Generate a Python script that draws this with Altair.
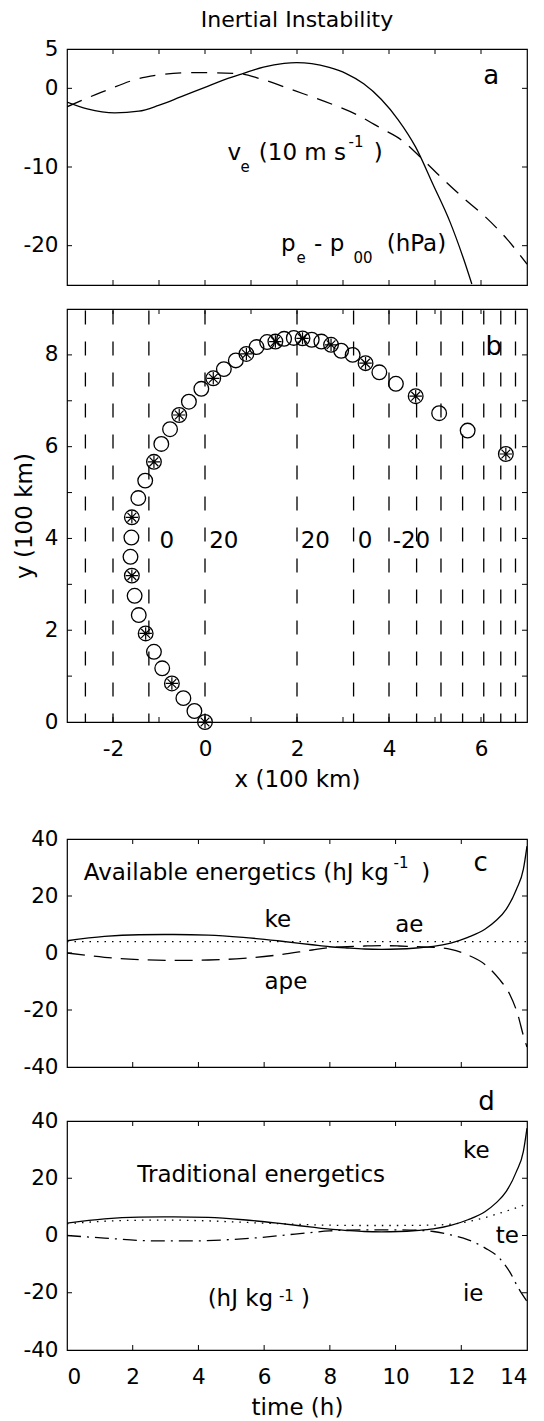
import altair as alt
import pandas as pd

FONT = "DejaVu Sans"
W = 460
H_A, H_B, H_C, H_D = 236, 413, 228, 229
GAP_AB, GAP_BC, GAP_CD = 24, 117, 54
TICK = 5
LW = 1.3

# ---------------- panel a ----------------
a_xdom = [-3, 7]
a_ydom = [-25, 5]
a_solid_x = [-3.0, -2.56, -1.96, -1.44, -1.01, -0.53, 0.0, 0.44, 0.82, 1.27, 1.72, 1.99,
             2.32, 2.70, 3.07, 3.45, 3.83, 4.20, 4.58, 4.96, 5.33, 5.63, 5.80]
a_solid_y = [-1.74, -2.61, -3.13, -2.91, -2.17, -1.09, 0.13, 1.13, 1.87, 2.70, 3.17, 3.26,
             3.13, 2.65, 1.87, 0.57, -1.39, -4.0, -7.48, -12.26, -17.04, -21.83, -24.87]
a_dash_x = [-3.0, -2.26, -1.29, -0.23, 0.74, 1.20, 1.95, 2.77, 3.30, 3.83, 4.28, 4.65,
            5.07, 5.63, 6.08, 6.57, 7.0]
a_dash_y = [-2.35, -0.52, 1.43, 2.0, 1.87, 1.22, -0.30, -2.04, -3.35, -5.09, -6.61, -8.57,
            -10.96, -14.0, -16.26, -19.2, -22.35]
a_text = ["v", "(10 m s", ")", "p", "- p", "(hPa)"]
a_text_x = [0.49, 1.17, 3.67, 1.65, 2.37, 3.95]
a_text_y = [-9.13, -9.13, -9.13, -20.65, -20.65, -20.65]
a_script = ["e", "-1", "e", "00"]
a_script_x = [0.77, 3.12, 1.99, 3.23]
a_script_y = [-10.65, -7.48, -22.17, -22.17]
a_letter = ["a"]
a_letter_x = [6.05]
a_letter_y = [0.57]

# ---------------- panel b ----------------
b_xdom = [-3, 7]
b_ydom = [0, 9]
b_x = [0.0, -0.23, -0.47, -0.72, -0.93, -1.11, -1.29, -1.44, -1.53, -1.59, -1.62, -1.60, -1.59,
       -1.45, -1.30, -1.11, -0.95, -0.76, -0.56, -0.35, -0.08, 0.18, 0.41, 0.67, 0.90, 1.12,
       1.35, 1.53, 1.72, 1.93, 2.12, 2.32, 2.53, 2.74, 2.96, 3.21, 3.49, 3.79, 4.15, 4.58,
       5.09, 5.71, 6.54]
b_y = [0.0, 0.24, 0.52, 0.84, 1.17, 1.53, 1.93, 2.33, 2.75, 3.19, 3.60, 4.02, 4.46, 4.88,
       5.26, 5.67, 6.06, 6.38, 6.69, 6.98, 7.26, 7.49, 7.69, 7.88, 8.02, 8.17, 8.28, 8.29,
       8.35, 8.37, 8.36, 8.33, 8.29, 8.22, 8.09, 8.00, 7.82, 7.62, 7.37, 7.10, 6.73, 6.35, 5.84]
b_mark = ["*", "o", "o"] * 14 + ["*"]
b_contour_x = [-2.6, -2.0, -1.22, 0.0, 2.0, 3.23, 4.0, 4.6, 5.13, 5.6, 6.06, 6.43, 6.75]
b_text = ["0", "20", "20", "0", "-20"]
b_text_x = [-0.99, 0.09, 2.08, 3.32, 4.08]
b_text_y = [3.8, 3.8, 3.8, 3.8, 3.8]
b_letter = ["b"]
b_letter_x = [6.1]
b_letter_y = [8.0]

# ---------------- panels c, d ----------------
t_dom = [0, 14]
e_dom = [-40, 40]
ke_t = [0, 1.14, 2.19, 3.25, 4.3, 5.36, 6.41, 7.46, 7.99, 8.52, 9.05, 9.57, 10.1, 10.63,
        11.15, 11.68, 12.2, 12.73, 13.05, 13.37, 13.68, 13.89, 14.0]
ke = [4.3, 5.8, 6.4, 6.5, 6.3, 5.5, 4.3, 2.9, 2.2, 1.75, 1.4, 1.3, 1.4, 1.75, 2.3, 3.5,
      5.5, 8.4, 11.3, 15.4, 22.4, 29.4, 37.5]
ape_t = [0, 1.14, 2.19, 3.25, 4.3, 5.36, 6.41, 7.46, 7.99, 8.52, 9.05, 9.57, 10.1, 10.63,
         11.15, 11.68, 12.2, 12.73, 13.15, 13.47, 13.73, 13.89, 14.0]
ape = [0, -1.5, -2.3, -2.6, -2.45, -1.9, -0.7, 1.05, 1.9, 2.2, 2.45, 2.6, 2.45, 2.2, 2.0,
       1.3, -0.7, -4.1, -9.1, -14.4, -22.0, -29.0, -33.0]
ae_t = [0, 14]
ae = [4.0, 4.0]
te_t = [0, 1, 2, 3, 4, 5, 6, 7, 8, 9, 10, 11, 11.5, 12, 12.5, 13, 13.5, 14]
te = [4.1, 4.9, 5.3, 5.4, 5.2, 4.8, 4.3, 3.9, 3.6, 3.5, 3.5, 3.6, 3.8, 4.4, 5.6, 7.2, 9.0, 11.0]
ie_t = [0, 1.14, 2.72, 3.77, 4.83, 5.88, 6.94, 7.99, 9.04, 10.1, 11.15, 11.68, 12.21, 12.73,
        13.16, 13.47, 13.74, 14.0]
ie = [0, -0.9, -1.9, -1.9, -1.5, -0.7, 0.5, 1.6, 2.0, 2.0, 1.4, 0.2, -1.5, -4.4, -7.9,
      -12.6, -18.4, -23.0]

c_text = ["Available energetics (hJ kg", ")", "ke", "ae", "ape"]
c_text_x = [0.51, 10.78, 6.01, 9.99, 6.01]
c_text_y = [25.7, 25.7, 9.0, 7.2, -12.6]
c_script = ["-1"]
c_script_x = [9.94]
c_script_y = [30.0]
c_letter = ["c"]
c_letter_x = [12.37]
c_letter_y = [28.9]

d_text = ["ke", "Traditional energetics", "te", "ie", "(hJ kg", ")"]
d_text_x = [12.05, 2.14, 13.05, 12.05, 4.28, 7.12]
d_text_y = [27.0, 18.8, -2.7, -23.0, -24.8, -24.8]
d_script = ["-1"]
d_script_x = [6.45]
d_script_y = [-23.0]
d_letter = ["d"]
d_letter_x = [12.52]
d_letter_y = [44.0]

STAR = "M-0.85,0L0.85,0M0,-0.85L0,0.85M-0.6,-0.6L0.6,0.6M-0.6,0.6L0.6,-0.6"


def sc(dom):
    return alt.Scale(domain=dom, nice=False, zero=False)


def tick_marks(xd, yd, xticks, yticks):
    """Inward ticks on all four sides: ticks centred on the frame, clipped to the plot."""
    xt = pd.DataFrame({"v": xticks})
    yt = pd.DataFrame({"v": yticks})
    layers = []
    for yv in yd:
        layers.append(alt.Chart(xt).mark_tick(orient="vertical", size=2 * TICK, thickness=1,
                                              color="black", clip=True, opacity=1).encode(
            x=alt.X("v:Q", scale=sc(xd), axis=None),
            y=alt.YDatum(yv, scale=sc(yd), axis=None)))
    for xv in xd:
        layers.append(alt.Chart(yt).mark_tick(orient="horizontal", size=2 * TICK, thickness=1,
                                              color="black", clip=True, opacity=1).encode(
            y=alt.Y("v:Q", scale=sc(yd), axis=None),
            x=alt.XDatum(xv, scale=sc(xd), axis=None)))
    return layers


def label_layer(xd, yd, xvals, yvals, xtitle=None, ytitle=None):
    df = pd.DataFrame({"x": xd, "y": yd})
    if xvals:
        xaxis = alt.Axis(orient="bottom", values=xvals, ticks=False, domain=False, grid=False,
                         labelPadding=16, title=xtitle, titlePadding=9,
                         labelExpr="'' + datum.value")
    else:
        xaxis = None
    yaxis = alt.Axis(orient="left", values=yvals, ticks=False, domain=False, grid=False,
                     labelPadding=9, title=ytitle, titlePadding=8,
                     labelExpr="'' + datum.value")
    return alt.Chart(df).mark_point(opacity=0).encode(
        x=alt.X("x:Q", scale=sc(xd), axis=xaxis),
        y=alt.Y("y:Q", scale=sc(yd), axis=yaxis))


def text_layer(xd, yd, texts, tx, ty, size):
    df = pd.DataFrame({"x": tx, "y": ty, "t": texts})
    return alt.Chart(df).mark_text(align="left", baseline="alphabetic", font=FONT,
                                   fontSize=size, color="black").encode(
        x=alt.X("x:Q", scale=sc(xd), axis=None),
        y=alt.Y("y:Q", scale=sc(yd), axis=None),
        text="t:N")


def line_layer(xd, yd, lx, ly, dash=None, cap="butt"):
    df = pd.DataFrame({"x": lx, "y": ly})
    kw = dict(color="black", strokeWidth=LW, interpolate="monotone", clip=True, strokeCap=cap)
    if dash:
        kw["strokeDash"] = dash
    return alt.Chart(df).mark_line(**kw).encode(
        x=alt.X("x:Q", scale=sc(xd), axis=None),
        y=alt.Y("y:Q", scale=sc(yd), axis=None))


def panel(layers, h, title=None):
    ch = alt.layer(*layers).resolve_axis(x="independent", y="independent")
    if title is not None:
        return ch.properties(width=W, height=h, title=title)
    return ch.properties(width=W, height=h)


def spacer(h):
    return alt.Chart(pd.DataFrame({"s": [0]})).mark_point(opacity=0).encode(
        x=alt.X("s:Q", axis=None), y=alt.Y("s:Q", axis=None)
    ).properties(width=W, height=h, view=alt.ViewBackground(stroke="transparent"))


MAIN = 23
SCRIPT = 15
LETTER = 26

# panel a
pa = panel(
    [label_layer(a_xdom, a_ydom, None, [-20, -10, 0, 5])]
    + tick_marks(a_xdom, a_ydom, list(range(-2, 7)), [-20, -10, 0])
    + [line_layer(a_xdom, a_ydom, a_solid_x, a_solid_y),
       line_layer(a_xdom, a_ydom, a_dash_x, a_dash_y, dash=[16, 10]),
       text_layer(a_xdom, a_ydom, a_text, a_text_x, a_text_y, MAIN),
       text_layer(a_xdom, a_ydom, a_script, a_script_x, a_script_y, SCRIPT),
       text_layer(a_xdom, a_ydom, a_letter, a_letter_x, a_letter_y, LETTER)],
    H_A,
    alt.TitleParams(text="Inertial Instability", fontSize=22, anchor="middle", frame="group",
                    offset=6, font=FONT, fontWeight="normal", color="black"))

# panel b
b_df = pd.DataFrame({"x": b_x, "y": b_y, "m": b_mark})
b_circles = alt.Chart(b_df).mark_point(shape="circle", size=215, filled=False, color="black",
                                       strokeWidth=1.3, opacity=1).encode(
    x=alt.X("x:Q", scale=sc(b_xdom), axis=None), y=alt.Y("y:Q", scale=sc(b_ydom), axis=None))
b_stars = alt.Chart(b_df).transform_filter(alt.datum.m == "*").mark_point(
    shape=STAR, size=215, filled=False, color="black", strokeWidth=1.2, opacity=1).encode(
    x=alt.X("x:Q", scale=sc(b_xdom), axis=None), y=alt.Y("y:Q", scale=sc(b_ydom), axis=None))
b_rules = alt.Chart(pd.DataFrame({"cx": b_contour_x})).mark_rule(
    color="black", strokeWidth=1.3, strokeDash=[14, 17], strokeDashOffset=29.4).encode(
    x=alt.X("cx:Q", scale=sc(b_xdom), axis=None),
    y=alt.YDatum(9.0, scale=sc(b_ydom), axis=None),
    y2=alt.Y2Datum(0.0))

pb = panel(
    [label_layer(b_xdom, b_ydom, [-2, 0, 2, 4, 6], [0, 2, 4, 6, 8], "x (100 km)", "y (100 km)")]
    + tick_marks(b_xdom, b_ydom, list(range(-2, 7)), list(range(1, 9)))
    + [b_rules, b_circles, b_stars,
       text_layer(b_xdom, b_ydom, b_text, b_text_x, b_text_y, MAIN),
       text_layer(b_xdom, b_ydom, b_letter, b_letter_x, b_letter_y, LETTER)],
    H_B)

# panel c
pc = panel(
    [label_layer(t_dom, e_dom, None, [-40, -20, 0, 20, 40])]
    + tick_marks(t_dom, e_dom, [2, 4, 6, 8, 10, 12], [-20, 0, 20])
    + [line_layer(t_dom, e_dom, ae_t, ae, dash=[1.5, 6]),
       line_layer(t_dom, e_dom, ape_t, ape, dash=[18, 9]),
       line_layer(t_dom, e_dom, ke_t, ke),
       text_layer(t_dom, e_dom, c_text, c_text_x, c_text_y, MAIN),
       text_layer(t_dom, e_dom, c_script, c_script_x, c_script_y, SCRIPT),
       text_layer(t_dom, e_dom, c_letter, c_letter_x, c_letter_y, LETTER)],
    H_C)

# panel d
pd_ = panel(
    [label_layer(t_dom, e_dom, [0, 2, 4, 6, 8, 10, 12, 14], [-40, -20, 0, 20, 40], "time (h)")]
    + tick_marks(t_dom, e_dom, [2, 4, 6, 8, 10, 12], [-20, 0, 20])
    + [line_layer(t_dom, e_dom, te_t, te, dash=[1.5, 6]),
       line_layer(t_dom, e_dom, ie_t, ie, dash=[14, 6, 2, 6]),
       line_layer(t_dom, e_dom, ke_t, ke),
       text_layer(t_dom, e_dom, d_text, d_text_x, d_text_y, MAIN),
       text_layer(t_dom, e_dom, d_script, d_script_x, d_script_y, SCRIPT),
       text_layer(t_dom, e_dom, d_letter, d_letter_x, d_letter_y, LETTER)],
    H_D)

chart = alt.vconcat(pa, spacer(GAP_AB), pb, spacer(GAP_BC), pc, spacer(GAP_CD), pd_,
                    spacing=0, bounds="flush").properties(
    padding={"left": 12, "top": 8, "right": 0, "bottom": 0}
).configure_view(stroke="black", strokeWidth=1.2).configure_axis(
    labelFont=FONT, titleFont=FONT, labelFontSize=21.5, titleFontSize=23,
    labelColor="black", titleColor="black", titleFontWeight="normal", grid=False
).configure_title(font=FONT, fontWeight="normal", color="black")

chart.save("out.html", embed_options={"renderer": "svg", "actions": False})
